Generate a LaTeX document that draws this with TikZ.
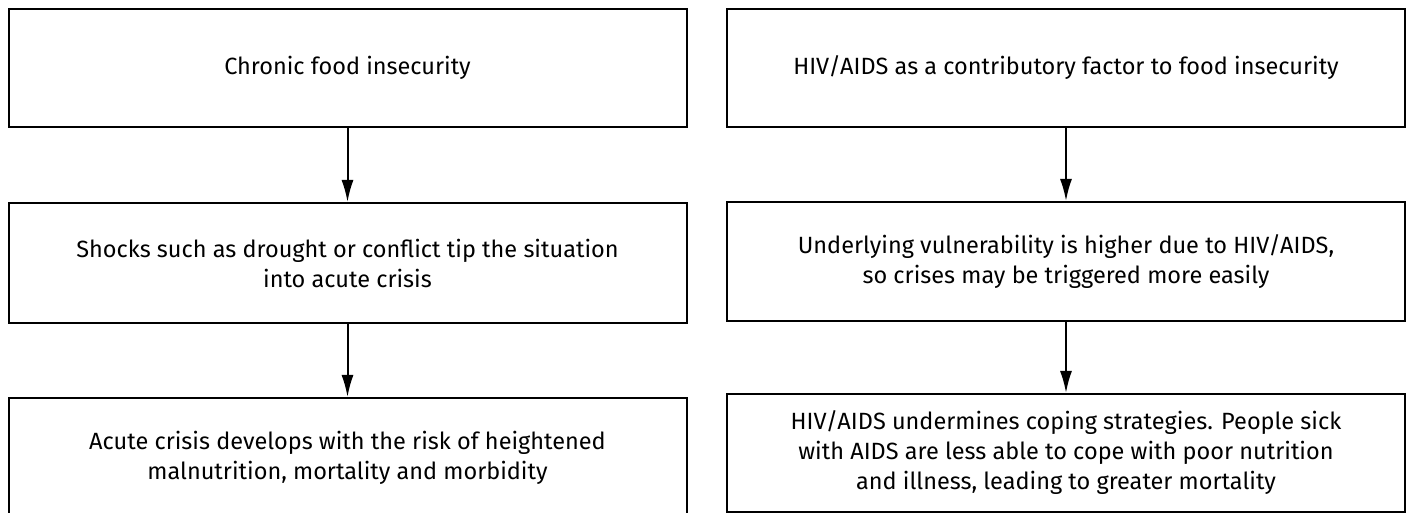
\documentclass[tikz,border=0pt]{standalone}
\usepackage{fontspec}
\setmainfont{Fira Sans}
\usetikzlibrary{arrows.meta}
\begin{document}
\begin{tikzpicture}[x=0.5pt, y=-0.5pt, >={Latex[length=11pt,width=6pt]},
    stage/.style={draw, line width=1pt, align=center, inner sep=0pt,
        minimum width=339pt, font=\fontsize{11.75}{15}\selectfont},
    link/.style={->, line width=1pt}]
    \useasboundingbox (0,0) rectangle (1410,513);
    % left column
    \node [stage, minimum height=59pt] (crisisA) at (347.5,68) {Chronic food insecurity};
    \node [stage, minimum height=60pt] (crisisB) at (347.5,263)
        {Shocks such as drought or conflict tip the situation\\ into acute crisis};
    \node [stage, minimum height=60pt] (crisisC) at (347.5,458)
        {Acute crisis develops with the risk of heightened\\ malnutrition, mortality and morbidity};
    % right column
    \node [stage, minimum height=59pt] (hivA) at (1066,68)
        {HIV/AIDS as a contributory factor to food insecurity};
    \node [stage, minimum height=59.5pt] (hivB) at (1066,261.5)
        {Underlying vulnerability is higher due to HIV/AIDS,\\ so crises may be triggered more easily};
    \node [stage, minimum height=59pt] (hivC) at (1066,453)
        {HIV/AIDS undermines coping strategies. People sick\\ with AIDS are less able to cope with poor nutrition\\ and illness, leading to greater mortality};
    \draw [link] (crisisA) -- (crisisB);
    \draw [link] (crisisB) -- (crisisC);
    \draw [link] (hivA) -- (hivB);
    \draw [link] (hivB) -- (hivC);
\end{tikzpicture}
\end{document}
